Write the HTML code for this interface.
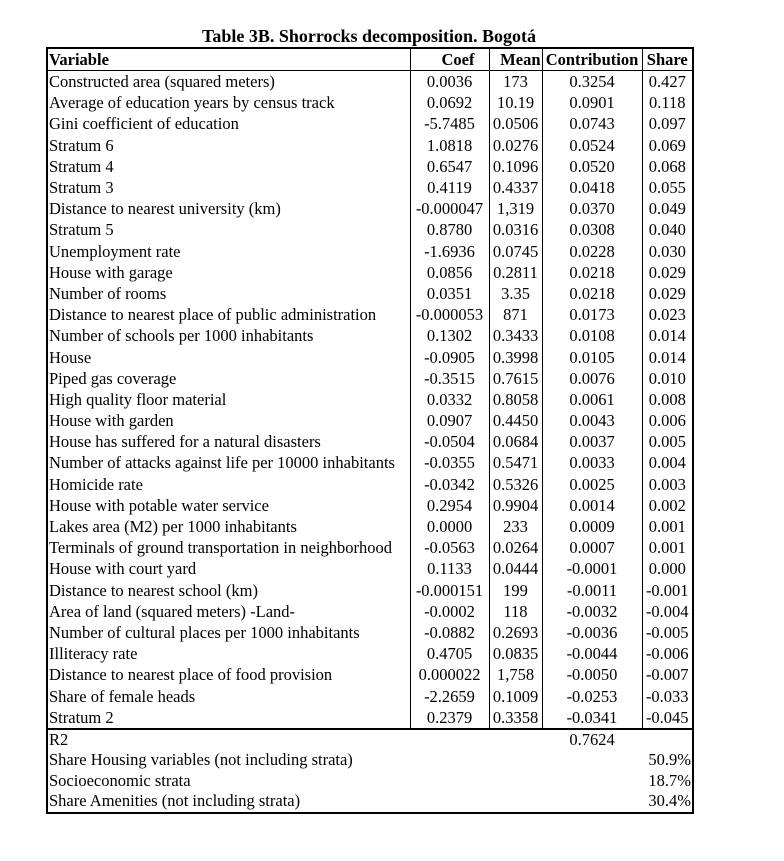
<!DOCTYPE html>
<html><head><meta charset="utf-8"><style>
body{margin:0;background:#fff;width:784px;height:861px;position:relative;font-family:"Liberation Serif",serif;color:#000}
.title{position:absolute;left:46px;width:646px;top:26px;text-align:center;font-weight:bold;font-size:18px;line-height:21px}
table{position:absolute;left:46px;top:47px;border-collapse:collapse;table-layout:fixed;width:646px;font-size:16.5px;border:2px solid #000}
td{padding:0 1px;height:21.2px;line-height:21px;white-space:nowrap;overflow:hidden;border-left:1.5px solid #000;border-right:1.5px solid #000}
tr.h td{font-weight:bold;height:19px;border-bottom:1.5px solid #000}
td.c{text-align:center}
tr.f td{border-left:none;border-right:none;height:20.5px;line-height:20.5px}
tr.f1 td{border-top:2px solid #000}
td.r{text-align:right}
</style></head><body>
<div class="title">Table 3B. Shorrocks decomposition. Bogotá</div>
<table>
<colgroup><col style="width:363px"><col style="width:79px"><col style="width:53px"><col style="width:100px"><col style="width:51px"></colgroup>
<tr class="h"><td>Variable</td><td class="r" style="padding-right:14px">Coef</td><td class="r">Mean</td><td class="c">Contribution</td><td class="c">Share</td></tr>
<tr><td>Constructed area (squared meters)</td><td class="c">0.0036</td><td class="c">173</td><td class="c">0.3254</td><td class="c">0.427</td></tr>
<tr><td>Average of education years by census track</td><td class="c">0.0692</td><td class="c">10.19</td><td class="c">0.0901</td><td class="c">0.118</td></tr>
<tr><td>Gini coefficient of education</td><td class="c">-5.7485</td><td class="c">0.0506</td><td class="c">0.0743</td><td class="c">0.097</td></tr>
<tr><td>Stratum 6</td><td class="c">1.0818</td><td class="c">0.0276</td><td class="c">0.0524</td><td class="c">0.069</td></tr>
<tr><td>Stratum 4</td><td class="c">0.6547</td><td class="c">0.1096</td><td class="c">0.0520</td><td class="c">0.068</td></tr>
<tr><td>Stratum 3</td><td class="c">0.4119</td><td class="c">0.4337</td><td class="c">0.0418</td><td class="c">0.055</td></tr>
<tr><td>Distance to nearest university (km)</td><td class="c">-0.000047</td><td class="c">1,319</td><td class="c">0.0370</td><td class="c">0.049</td></tr>
<tr><td>Stratum 5</td><td class="c">0.8780</td><td class="c">0.0316</td><td class="c">0.0308</td><td class="c">0.040</td></tr>
<tr><td>Unemployment rate</td><td class="c">-1.6936</td><td class="c">0.0745</td><td class="c">0.0228</td><td class="c">0.030</td></tr>
<tr><td>House with garage</td><td class="c">0.0856</td><td class="c">0.2811</td><td class="c">0.0218</td><td class="c">0.029</td></tr>
<tr><td>Number of rooms</td><td class="c">0.0351</td><td class="c">3.35</td><td class="c">0.0218</td><td class="c">0.029</td></tr>
<tr><td>Distance to nearest place of public administration</td><td class="c">-0.000053</td><td class="c">871</td><td class="c">0.0173</td><td class="c">0.023</td></tr>
<tr><td>Number of schools per 1000 inhabitants</td><td class="c">0.1302</td><td class="c">0.3433</td><td class="c">0.0108</td><td class="c">0.014</td></tr>
<tr><td>House</td><td class="c">-0.0905</td><td class="c">0.3998</td><td class="c">0.0105</td><td class="c">0.014</td></tr>
<tr><td>Piped gas coverage</td><td class="c">-0.3515</td><td class="c">0.7615</td><td class="c">0.0076</td><td class="c">0.010</td></tr>
<tr><td>High quality floor material</td><td class="c">0.0332</td><td class="c">0.8058</td><td class="c">0.0061</td><td class="c">0.008</td></tr>
<tr><td>House with garden</td><td class="c">0.0907</td><td class="c">0.4450</td><td class="c">0.0043</td><td class="c">0.006</td></tr>
<tr><td>House has suffered for a natural disasters</td><td class="c">-0.0504</td><td class="c">0.0684</td><td class="c">0.0037</td><td class="c">0.005</td></tr>
<tr><td>Number of attacks against life per 10000 inhabitants</td><td class="c">-0.0355</td><td class="c">0.5471</td><td class="c">0.0033</td><td class="c">0.004</td></tr>
<tr><td>Homicide rate</td><td class="c">-0.0342</td><td class="c">0.5326</td><td class="c">0.0025</td><td class="c">0.003</td></tr>
<tr><td>House with potable water service</td><td class="c">0.2954</td><td class="c">0.9904</td><td class="c">0.0014</td><td class="c">0.002</td></tr>
<tr><td>Lakes area (M2) per 1000 inhabitants</td><td class="c">0.0000</td><td class="c">233</td><td class="c">0.0009</td><td class="c">0.001</td></tr>
<tr><td>Terminals of ground transportation in neighborhood</td><td class="c">-0.0563</td><td class="c">0.0264</td><td class="c">0.0007</td><td class="c">0.001</td></tr>
<tr><td>House with court yard</td><td class="c">0.1133</td><td class="c">0.0444</td><td class="c">-0.0001</td><td class="c">0.000</td></tr>
<tr><td>Distance to nearest school (km)</td><td class="c">-0.000151</td><td class="c">199</td><td class="c">-0.0011</td><td class="c">-0.001</td></tr>
<tr><td>Area of land (squared meters) -Land-</td><td class="c">-0.0002</td><td class="c">118</td><td class="c">-0.0032</td><td class="c">-0.004</td></tr>
<tr><td>Number of cultural places per 1000 inhabitants</td><td class="c">-0.0882</td><td class="c">0.2693</td><td class="c">-0.0036</td><td class="c">-0.005</td></tr>
<tr><td>Illiteracy rate</td><td class="c">0.4705</td><td class="c">0.0835</td><td class="c">-0.0044</td><td class="c">-0.006</td></tr>
<tr><td>Distance to nearest place of food provision</td><td class="c">0.000022</td><td class="c">1,758</td><td class="c">-0.0050</td><td class="c">-0.007</td></tr>
<tr><td>Share of female heads</td><td class="c">-2.2659</td><td class="c">0.1009</td><td class="c">-0.0253</td><td class="c">-0.033</td></tr>
<tr><td>Stratum 2</td><td class="c">0.2379</td><td class="c">0.3358</td><td class="c">-0.0341</td><td class="c">-0.045</td></tr>
<tr class="f f1"><td>R2</td><td></td><td></td><td class="c">0.7624</td><td></td></tr>
<tr class="f"><td>Share Housing variables (not including strata)</td><td></td><td></td><td></td><td class="r">50.9%</td></tr>
<tr class="f"><td>Socioeconomic strata</td><td></td><td></td><td></td><td class="r">18.7%</td></tr>
<tr class="f"><td>Share Amenities (not including strata)</td><td></td><td></td><td></td><td class="r">30.4%</td></tr>
</table>
</body></html>
